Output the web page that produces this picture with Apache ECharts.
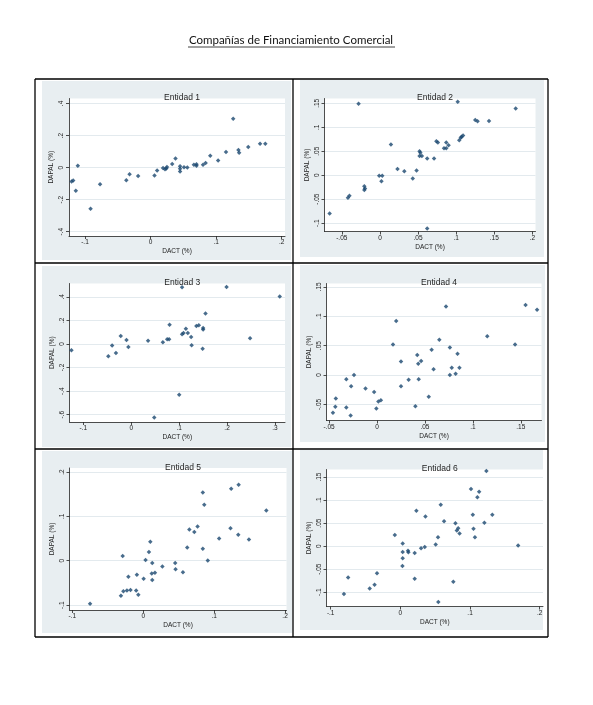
<!DOCTYPE html>
<html>
<head>
<meta charset="utf-8">
<script src="https://cdn.jsdelivr.net/npm/echarts@6/dist/echarts.min.js"></script>
<style>
html, body { margin: 0; padding: 0; background: #ffffff; }
#chart { width: 593px; height: 705px; }
</style>
</head>
<body>
<div id="chart"></div>
<script>
// ***** datos (DACT, DAPAL) *****
const entidad1 = [
  [-0.1205, -0.087], [-0.118, -0.081], [-0.111, 0.012], [-0.114, -0.145], [-0.0915, -0.257],
  [-0.077, -0.104], [-0.037, -0.079], [-0.032, -0.041], [-0.019, -0.052], [0.006, -0.050],
  [0.010, -0.019], [0.019, -0.002], [0.022, -0.010], [0.025, 0.004], [0.024, -0.006],
  [0.033, 0.023], [0.038, 0.056], [0.045, 0.008], [0.045, -0.008], [0.045, -0.025],
  [0.051, 0.002], [0.056, 0.000], [0.066, 0.017], [0.070, 0.012], [0.070, 0.021],
  [0.080, 0.017], [0.084, 0.029], [0.091, 0.073], [0.103, 0.044], [0.115, 0.097],
  [0.126, 0.305], [0.134, 0.110], [0.135, 0.093], [0.149, 0.128], [0.167, 0.149], [0.175, 0.149]
]
const entidad2 = [
  [-0.066, -0.080], [-0.042, -0.047], [-0.040, -0.043], [-0.028, 0.149], [-0.0205, -0.023],
  [-0.0196, -0.028], [-0.0205, -0.031], [-0.001, -0.001], [0.003, -0.001], [0.002, -0.0125],
  [0.0144, 0.064], [0.023, 0.013], [0.032, 0.008], [0.043, -0.007], [0.048, 0.010],
  [0.052, 0.050], [0.053, 0.047], [0.052, 0.040], [0.055, 0.040], [0.062, 0.035],
  [0.062, -0.111], [0.071, 0.035], [0.074, 0.071], [0.076, 0.068], [0.084, 0.056],
  [0.087, 0.068], [0.087, 0.056], [0.090, 0.0625], [0.102, 0.153], [0.104, 0.073],
  [0.106, 0.078], [0.107, 0.080], [0.109, 0.083], [0.125, 0.115], [0.128, 0.1125],
  [0.143, 0.113], [0.178, 0.139]
]
const entidad3 = [
  [-0.125, -0.054], [-0.048, -0.105], [-0.040, -0.014], [-0.032, -0.076], [-0.022, 0.068],
  [-0.010, 0.034], [-0.006, -0.025], [0.035, 0.028], [0.048, -0.623], [0.066, 0.014],
  [0.075, 0.040], [0.080, 0.164], [0.079, 0.040], [0.100, -0.431], [0.106, 0.482],
  [0.106, 0.082], [0.109, 0.093], [0.114, 0.130], [0.118, 0.093], [0.125, 0.059],
  [0.126, -0.011], [0.136, 0.153], [0.141, 0.159], [0.149, -0.040], [0.150, 0.136],
  [0.150, 0.122], [0.155, 0.258], [0.199, 0.484], [0.248, 0.048], [0.310, 0.402]
]
const entidad4 = [
  [-0.046, -0.064], [-0.0435, -0.054], [-0.043, -0.040], [-0.032, -0.007], [-0.032, -0.055],
  [-0.0275, -0.069], [-0.027, -0.019], [-0.024, 0.000], [-0.012, -0.023], [-0.003, -0.029],
  [-0.0007, -0.057], [0.0014, -0.045], [0.004, -0.043], [0.0167, 0.052], [0.020, 0.092],
  [0.025, 0.023], [0.025, -0.019], [0.033, -0.008], [0.040, -0.053], [0.042, 0.034],
  [0.043, 0.019], [0.0435, -0.007], [0.046, 0.024], [0.054, -0.037], [0.057, 0.043],
  [0.059, 0.010], [0.065, 0.060], [0.072, 0.1165], [0.076, 0.047], [0.076, 0.000],
  [0.078, 0.0125], [0.082, 0.002], [0.084, 0.036], [0.086, 0.0125], [0.115, 0.066],
  [0.144, 0.052], [0.155, 0.119], [0.167, 0.111]
]
const entidad5 = [
  [-0.075, -0.097], [-0.0315, -0.079], [-0.028, -0.069], [-0.029, 0.0105], [-0.023, -0.067],
  [-0.021, -0.036], [-0.018, -0.066], [-0.010, -0.067], [-0.009, -0.0315], [-0.007, -0.0765],
  [0.0005, -0.0405], [0.0033, 0.0015], [0.008, 0.0195], [0.010, 0.043], [0.012, -0.029],
  [0.0127, -0.005], [0.0127, -0.0435], [0.0165, -0.027], [0.027, -0.013], [0.045, -0.005],
  [0.0456, -0.019], [0.056, -0.026], [0.062, 0.030], [0.065, 0.0705], [0.072, 0.065],
  [0.0766, 0.077], [0.084, 0.027], [0.084, 0.154], [0.086, 0.126], [0.091, 0.0008],
  [0.107, 0.050], [0.123, 0.0735], [0.124, 0.162], [0.134, 0.0585], [0.1345, 0.171],
  [0.149, 0.048], [0.1735, 0.113]
]
const entidad6 = [
  [-0.081, -0.104], [-0.075, -0.068], [-0.044, -0.092], [-0.037, -0.084], [-0.0335, -0.059],
  [-0.008, 0.024], [0.0033, 0.0058], [0.0033, -0.0124], [0.0033, -0.026], [0.003, -0.043],
  [0.011, -0.010], [0.0115, -0.013], [0.0206, -0.015], [0.0206, -0.0705], [0.023, 0.077],
  [0.0297, -0.0044], [0.035, -0.002], [0.036, 0.0647], [0.0507, 0.0036], [0.054, 0.0196],
  [0.0545, -0.121], [0.058, 0.090], [0.0627, 0.054], [0.076, -0.077], [0.079, 0.050],
  [0.081, 0.034], [0.083, 0.039], [0.085, 0.0276], [0.1014, 0.124], [0.104, 0.068],
  [0.105, 0.038], [0.107, 0.0196], [0.1105, 0.106], [0.113, 0.118], [0.1206, 0.051],
  [0.1234, 0.163], [0.132, 0.068], [0.169, 0.0015]
]

const titulos = ['Entidad 1', 'Entidad 2', 'Entidad 3', 'Entidad 4', 'Entidad 5', 'Entidad 6']
const datos = [entidad1, entidad2, entidad3, entidad4, entidad5, entidad6]

// marcas de los ejes
const ticksX = [
  [-0.1, 0, 0.1, 0.2],
  [-0.05, 0, 0.05, 0.1, 0.15, 0.2],
  [-0.1, 0, 0.1, 0.2, 0.3],
  [-0.05, 0, 0.05, 0.1, 0.15],
  [-0.1, 0, 0.1, 0.2],
  [-0.1, 0, 0.1, 0.2]
]
const ticksY = [
  [-0.4, -0.2, 0, 0.2, 0.4],
  [-0.1, -0.05, 0, 0.05, 0.1, 0.15],
  [-0.6, -0.4, -0.2, 0, 0.2, 0.4],
  [-0.05, 0, 0.05, 0.1, 0.15],
  [-0.1, 0, 0.1, 0.2],
  [-0.1, -0.05, 0, 0.05, 0.1, 0.15]
]
// rango de cada eje (como lo deja Stata)
const rangoX = [[-0.1244, 0.205], [-0.0727, 0.204], [-0.129, 0.321], [-0.0527, 0.1716], [-0.104, 0.202], [-0.106, 0.2047]]
const rangoY = [[-0.427, 0.431], [-0.1175, 0.16], [-0.662, 0.513], [-0.0773, 0.1556], [-0.111, 0.209], [-0.131, 0.1665]]

// posiciones del area de dibujo y del fondo gris de cada panel
const areas = [
  { left: 69, top: 98.5, width: 216, height: 137.5 },
  { left: 324.5, top: 98.5, width: 211, height: 133 },
  { left: 69.5, top: 283.5, width: 215.5, height: 138.5 },
  { left: 326.5, top: 283.5, width: 215, height: 137 },
  { left: 69.5, top: 468, width: 217, height: 142 },
  { left: 326.5, top: 469.5, width: 216.5, height: 137 }
]
const fondos = [
  [42, 81, 249, 179], [300, 80, 244, 177],
  [42, 266, 249, 181], [300, 265, 245, 177],
  [42, 451, 250, 182], [300, 450, 243, 180]
]

const fuente = 'Liberation Sans'
const gris = '#e8eef1'

// formato Stata: .2 en vez de 0.2
function stataNum(v) {
  const r = Math.round(v * 1000) / 1000
  if (r === 0) return '0'
  return String(r).replace(/^(-?)0\./, '$1.')
}

const chart = echarts.init(document.getElementById('chart'))

const grid = []
const xAxis = []
const yAxis = []
const series = []
const title = []
const graphic = []

// fondos grises
fondos.forEach(f => {
  graphic.push({
    type: 'rect', z: -10, silent: true,
    shape: { x: f[0], y: f[1], width: f[2], height: f[3] },
    style: { fill: gris }
  })
})

for (let i = 0; i < 6; i++) {
  const a = areas[i]
  grid.push({
    left: a.left, top: a.top, width: a.width, height: a.height,
    show: true, backgroundColor: '#ffffff', borderWidth: 0
  })
  xAxis.push({
    type: 'value', gridIndex: i,
    min: rangoX[i][0], max: rangoX[i][1],
    name: 'DACT (%)', nameLocation: 'middle', nameGap: 12,
    nameTextStyle: { fontFamily: fuente, fontSize: 6.5, color: '#222' },
    axisLine: { onZero: false, lineStyle: { color: '#222', width: 0.8 } },
    axisTick: { show: true, length: 3, customValues: ticksX[i], lineStyle: { color: '#222', width: 0.8 } },
    axisLabel: { customValues: ticksX[i], formatter: stataNum, fontFamily: fuente, fontSize: 6.5, color: '#222', margin: 3 },
    splitLine: { show: false }
  })
  yAxis.push({
    type: 'value', gridIndex: i,
    min: rangoY[i][0], max: rangoY[i][1],
    name: 'DAPAL (%)', nameLocation: 'middle', nameGap: 14,
    nameTextStyle: { fontFamily: fuente, fontSize: 6.5, color: '#222' },
    axisLine: { show: true, onZero: false, lineStyle: { color: '#222', width: 0.8 } },
    axisTick: { show: true, length: 3, customValues: ticksY[i], lineStyle: { color: '#222', width: 0.8 } },
    axisLabel: { customValues: ticksY[i], formatter: stataNum, rotate: 90, fontFamily: fuente, fontSize: 6.5, color: '#222', margin: 4 },
    splitLine: { show: true, lineStyle: { color: '#e3eaee', width: 1 } }
  })
  series.push({
    type: 'scatter', xAxisIndex: i, yAxisIndex: i,
    symbol: 'diamond', symbolSize: 4.5,
    itemStyle: { color: '#1a476f' },
    data: datos[i]
  })
  title.push({
    text: titulos[i],
    left: a.left + a.width / 2, top: a.top - 10, textAlign: 'center',
    textStyle: { fontFamily: fuente, fontSize: 8.5, fontWeight: 'normal', color: '#1e1e1e' }
  })
}

// titulo general subrayado
graphic.push({
  type: 'text', x: 291, y: 34,
  style: { text: 'Compañías de Financiamiento Comercial', font: '11.5px Lato', fill: '#111', align: 'center' }
})
graphic.push({
  type: 'line', silent: true,
  shape: { x1: 188, y1: 47, x2: 395, y2: 47 },
  style: { stroke: '#111', lineWidth: 0.8 }
})

// bordes de la tabla
const bordes = [
  [35, 79, 548, 79], [35, 263, 548, 263], [35, 449, 548, 449], [35, 637, 548, 637],
  [35, 79, 35, 637], [293, 79, 293, 637], [548, 79, 548, 637]
]
bordes.forEach(b => {
  graphic.push({
    type: 'line', silent: true, z: 10,
    shape: { x1: b[0], y1: b[1], x2: b[2], y2: b[3] },
    style: { stroke: '#000', lineWidth: 1.3 }
  })
})

chart.setOption({
  backgroundColor: '#ffffff',
  animation: false,
  title: title,
  grid: grid,
  xAxis: xAxis,
  yAxis: yAxis,
  series: series,
  graphic: graphic
})
</script>
</body>
</html>
